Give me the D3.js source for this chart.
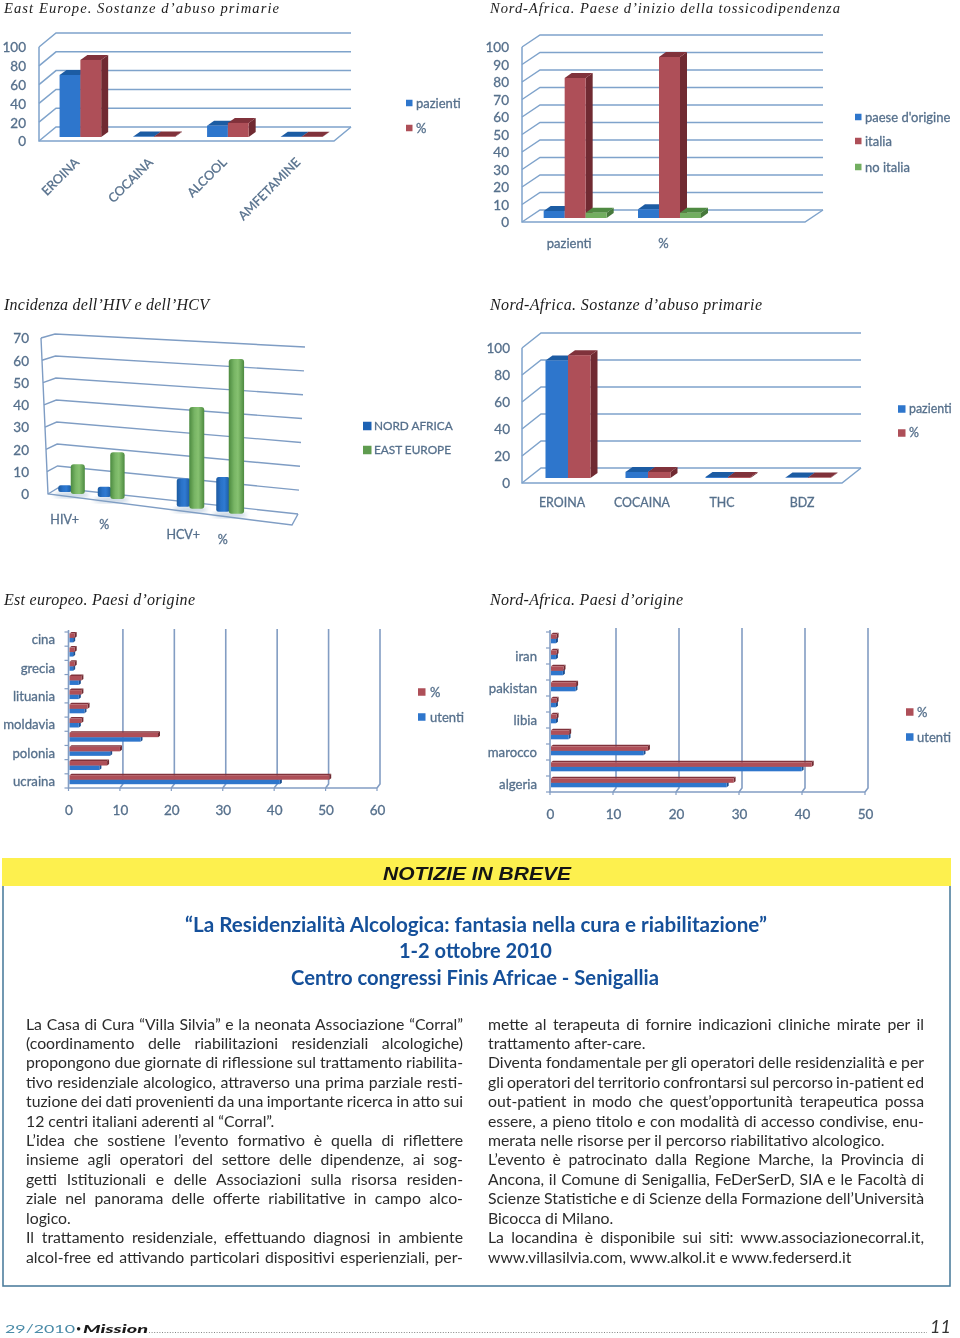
<!DOCTYPE html>
<html>
<head>
<meta charset="utf-8">
<script src="https://cdn.jsdelivr.net/npm/d3@7"></script>
<style>
  html, body { margin: 0; padding: 0; background: #fff; }
  svg { display: block; }
  text { font-family: Lato, "Open Sans", sans-serif; }
</style>
</head>
<body>
<div id="page"></div>
<script>
// East Europe, sostanze
const eeSubstances = ["EROINA", "COCAINA", "ALCOOL", "AMFETAMINE"];
const eePazienti = [66, 0.5, 12, 0.3];
const eePercent = [82, 0.6, 15, 0.3];

// Nord-Africa, paese d'inizio
const naStartCats = ["pazienti", "%", ""];
const naStartOrigine = [4, 5, 0];
const naStartItalia = [80, 92, 0];
const naStartNoItalia = [3, 3, 0];

// HIV / HCV
const hivCats = ["HIV+", "%", "", "HCV+", "%", ""];
const hivNordAfrica = [3, 4.5, null, 11.7, 14, null];
const hivEastEurope = [13.5, 20.5, null, 42, 62, null];

// Nord-Africa, sostanze
const naSubstances = ["EROINA", "COCAINA", "THC", "BDZ"];
const naPazienti = [87, 4.5, 0.7, 0.3];
const naPercent = [91, 4.5, 0.7, 0.3];

// Est europeo, paesi
const eeCountries = ["cina", "", "grecia", "", "lituania", "", "moldavia", "", "polonia", "", "ucraina"];
const eeCountryPercent = [1.4, 1.4, 1.4, 2.7, 2.7, 3.9, 2.7, 17.6, 10.2, 7.7, 50.9];
const eeCountryUtenti = [1.1, 1.1, 1.1, 2.2, 2.2, 3.3, 2.2, 14.2, 8.3, 6.2, 41.3];

// Nord-Africa, paesi
const naCountries = ["", "iran", "", "pakistan", "", "libia", "", "marocco", "", "algeria"];
const naCountryPercent = [1.2, 1.2, 2.3, 4.3, 1.2, 1.2, 3.2, 15.7, 41.7, 29.3];
const naCountryUtenti = [1.1, 1.1, 2.2, 4.2, 1.1, 1.1, 3.1, 15, 40.1, 28.2];

const ticks100by20 = [0, 20, 40, 60, 80, 100];
const ticks100by10 = [0, 10, 20, 30, 40, 50, 60, 70, 80, 90, 100];
const ticks70 = [0, 10, 20, 30, 40, 50, 60, 70];
const ticks60 = [0, 10, 20, 30, 40, 50, 60];
const ticks50 = [0, 10, 20, 30, 40, 50];

const bodyLeft = [
  ["La Casa di Cura “Villa Silvia” e la neonata Associazione “Corral”", 1],
  ["(coordinamento delle riabilitazioni residenziali alcologiche)", 1],
  ["propongono due giornate di riflessione sul trattamento riabilita-", 1],
  ["tivo residenziale alcologico, attraverso una prima parziale resti-", 1],
  ["tuzione dei dati provenienti da una importante ricerca in atto sui", 1],
  ["12 centri italiani aderenti al “Corral”.", 0],
  ["L’idea che sostiene l’evento formativo è quella di riflettere", 1],
  ["insieme agli operatori del settore delle dipendenze, ai sog-", 1],
  ["getti Istituzionali e delle Associazioni sulla risorsa residen-", 1],
  ["ziale nel panorama delle offerte riabilitative in campo alco-", 1],
  ["logico.", 0],
  ["Il trattamento residenziale, effettuando diagnosi in ambiente", 1],
  ["alcol-free ed attivando particolari dispositivi esperienziali, per-", 1]
];
const bodyRight = [
  ["mette al terapeuta di fornire indicazioni cliniche mirate per il", 1],
  ["trattamento after-care.", 0],
  ["Diventa fondamentale per gli operatori delle residenzialità e per", 1],
  ["gli operatori del territorio confrontarsi sul percorso in-patient ed", 1],
  ["out-patient in modo che quest’opportunità terapeutica possa", 1],
  ["essere, a pieno titolo e con modalità di accesso condivise, enu-", 1],
  ["merata nelle risorse per il percorso riabilitativo alcologico.", 0],
  ["L’evento è patrocinato dalla Regione Marche, la Provincia di", 1],
  ["Ancona, il Comune di Senigallia, FeDerSerD, SIA e le Facoltà di", 1],
  ["Scienze Statistiche e di Scienze della Formazione dell’Università", 1],
  ["Bicocca di Milano.", 0],
  ["La locandina è disponibile sui siti: www.associazionecorral.it,", 1],
  ["www.villasilvia.com, www.alkol.it e www.federserd.it", 0]
];

const BLUE = { front: "#2f76cc", top: "#1f5ba3", side: "#1d4f8f" };
const RED = { front: "#ae5058", top: "#80303a", side: "#6f2a30" };
const GREEN = { front: "#72ae60", top: "#4f8a42", side: "#47793b" };
const GRID = "#7fa3cb";
const LABEL = "#56708c";

const svg = d3.select("#page").append("svg")
    .attr("width", 960)
    .attr("height", 1338)
    .attr("viewBox", "0 0 960 1338")
    .style("background", "white");

const defs = svg.append("defs");
defs.append("filter").attr("id", "soft")
    .attr("x", "-5%").attr("y", "-5%").attr("width", "110%").attr("height", "110%")
  .append("feGaussianBlur").attr("stdDeviation", 0.5);
defs.append("filter").attr("id", "shadow")
  .append("feGaussianBlur").attr("stdDeviation", 2);

function cylinderGradient(id, dark, mid, light) {
    const g = defs.append("linearGradient").attr("id", id);
    g.append("stop").attr("offset", "0%").attr("stop-color", dark);
    g.append("stop").attr("offset", "35%").attr("stop-color", mid);
    g.append("stop").attr("offset", "60%").attr("stop-color", light);
    g.append("stop").attr("offset", "100%").attr("stop-color", dark);
}
cylinderGradient("cylBlue", "#1c5aa0", "#2a72c8", "#2f7ad2");
cylinderGradient("cylGreen", "#4c8a40", "#78b565", "#86c170");

const charts = svg.append("g").attr("filter", "url(#soft)");

function legend(items, x, labelX, size, fontSize) {
    const g = charts.append("g");
    items.forEach(item => {
        g.append("rect")
            .attr("x", x).attr("y", item.y - size / 2)
            .attr("width", size).attr("height", size)
            .attr("fill", item.color);
        g.append("text")
            .attr("x", labelX).attr("y", item.y)
            .attr("dy", "0.35em")
            .attr("font-size", fontSize)
            .attr("fill", LABEL)
            .attr("stroke", LABEL)
            .attr("stroke-width", 0.3)
            .text(item.label);
    });
}

function styleAxisText(axisG, fontSize) {
    axisG.select(".domain").remove();
    axisG.selectAll("line").remove();
    axisG.selectAll("text")
        .attr("font-size", fontSize)
        .attr("fill", LABEL)
        .attr("stroke", LABEL)
        .attr("stroke-width", 0.3)
        .style("font-family", "Lato, sans-serif");
}

// column chart with a fake 3d floor and wall
function columns3d(cfg) {
    const g = charts.append("g");
    const y = d3.scaleLinear().domain(cfg.domain).range([cfg.y0, cfg.yTop]);
    const x = d3.scaleBand().domain(d3.range(cfg.cats.length)).range([cfg.x0, cfg.x0 + cfg.width]);
    const inner = d3.scaleBand().domain(d3.range(cfg.series.length))
        .range([0, cfg.series.length * cfg.barWidth]);

    cfg.ticks.forEach(t => {
        g.append("path")
            .attr("d", d3.line()([
                [cfg.x0, y(t)],
                [cfg.x0 + cfg.dx, y(t) + cfg.dy],
                [cfg.x0 + cfg.width + cfg.dx, y(t) + cfg.dy]
            ]))
            .attr("fill", "none").attr("stroke", GRID).attr("stroke-width", 1.5);
    });
    g.append("path")
        .attr("d", d3.line()([
            [cfg.x0, cfg.yTop],
            [cfg.x0, cfg.y0],
            [cfg.x0 + cfg.width, cfg.y0],
            [cfg.x0 + cfg.width + cfg.dx, cfg.y0 + cfg.dy]
        ]))
        .attr("fill", "none").attr("stroke", GRID).attr("stroke-width", 1.5);

    const yAxis = g.append("g")
        .attr("transform", `translate(${cfg.x0},0.5)`)
        .call(d3.axisLeft(y).tickValues(cfg.ticks).tickSize(0).tickPadding(cfg.tickPad));
    styleAxisText(yAxis, 13.5);

    const lift = cfg.baseLift;
    const d = cfg.barDepth;
    cfg.cats.forEach((c, i) => {
        const start = x(i) + x.bandwidth() / 2 + cfg.barShift - inner.range()[1] / 2;
        cfg.series.forEach((s, j) => {
            const v = s.values[i];
            if (!v) return;
            const bx = start + inner(j);
            const bw = inner.bandwidth();
            const top = y(v) - lift;
            const bottom = y(0) - lift;
            g.append("polygon")
                .attr("points", [[bx + bw, top], [bx + bw + d[0], top + d[1]],
                    [bx + bw + d[0], bottom + d[1]], [bx + bw, bottom]].join(" "))
                .attr("fill", s.color.side);
            g.append("polygon")
                .attr("points", [[bx, top], [bx + d[0], top + d[1]],
                    [bx + bw + d[0], top + d[1]], [bx + bw, top]].join(" "))
                .attr("fill", s.color.top);
            g.append("rect")
                .attr("x", bx).attr("y", top)
                .attr("width", bw).attr("height", bottom - top)
                .attr("fill", s.color.front);
        });
    });

    const xAxis = g.append("g")
        .attr("transform", `translate(0,${cfg.catY})`)
        .call(d3.axisBottom(x).tickSize(0).tickPadding(0).tickFormat(i => cfg.cats[i]));
    styleAxisText(xAxis, cfg.catSize || 13);
    if (cfg.rotate) {
        xAxis.selectAll("text")
            .attr("text-anchor", "end")
            .attr("dy", "0.35em")
            .attr("transform", "translate(1,0) rotate(-45)");
    }
}

// bar chart lying on its side
function hbars3d(cfg) {
    const g = charts.append("g");
    const x = d3.scaleLinear().domain(cfg.domain).range([cfg.x0, cfg.x1]);
    const y = d3.scaleBand().domain(d3.range(cfg.cats.length)).range([cfg.yTop, cfg.y0]);
    const wd = 3, wh = -4;

    cfg.ticks.slice(1).forEach(t => {
        g.append("path")
            .attr("d", d3.line()([
                [x(t) + wd, cfg.yWall],
                [x(t) + wd, cfg.y0 + wh],
                [x(t), cfg.y0]
            ]))
            .attr("fill", "none").attr("stroke", "#839dc3").attr("stroke-width", 1.6);
    });
    g.append("path")
        .attr("d", d3.line()([[cfg.x0, cfg.yTop - 2], [cfg.x0, cfg.y0], [cfg.x1, cfg.y0]]))
        .attr("fill", "none").attr("stroke", "#839dc3").attr("stroke-width", 1.6);
    d3.range(cfg.cats.length + 1).forEach(i => {
        const ty = cfg.yTop + i * y.step();
        g.append("line")
            .attr("x1", cfg.x0 - 4).attr("x2", cfg.x0)
            .attr("y1", ty).attr("y2", ty)
            .attr("stroke", "#839dc3").attr("stroke-width", 1.2);
    });
    cfg.ticks.forEach(t => {
        g.append("line")
            .attr("x1", x(t)).attr("x2", x(t))
            .attr("y1", cfg.y0).attr("y2", cfg.y0 + 3)
            .attr("stroke", "#839dc3").attr("stroke-width", 1.2);
    });

    const h = cfg.barHeight;
    cfg.cats.forEach((c, i) => {
        const mid = y(i) + y.bandwidth() / 2 - 1.5;
        const a = x(0) + 1;
        const drawBar = (v, color, top) => {
            const b = x(v) - 1;
            g.append("polygon")
                .attr("points", [[a, top], [a + 2, top - 1.5], [b + 2, top - 1.5], [b, top]].join(" "))
                .attr("fill", color.top);
            g.append("polygon")
                .attr("points", [[b, top], [b + 2, top - 1.5], [b + 2, top + h - 1.5], [b, top + h]].join(" "))
                .attr("fill", color.side);
            g.append("rect")
                .attr("x", a).attr("y", top)
                .attr("width", b - a).attr("height", h)
                .attr("fill", color.front);
        };
        drawBar(cfg.utenti[i], BLUE, mid + 0.3);
        drawBar(cfg.percent[i], RED, mid - h + 0.3);
    });

    const catAxis = g.append("g")
        .attr("transform", `translate(${cfg.catX},1)`)
        .call(d3.axisLeft(y).tickSize(0).tickPadding(0).tickFormat(i => cfg.cats[i]));
    styleAxisText(catAxis, 13.2);

    const valAxis = g.append("g")
        .attr("transform", `translate(0,${cfg.valY})`)
        .call(d3.axisBottom(x).tickValues(cfg.ticks).tickSize(0).tickPadding(0));
    styleAxisText(valAxis, 13.5);
}

columns3d({
    cats: eeSubstances,
    series: [{ values: eePazienti, color: BLUE }, { values: eePercent, color: RED }],
    domain: [0, 100], ticks: ticks100by20,
    x0: 39, width: 295, y0: 141, yTop: 47, dx: 17, dy: -14,
    barWidth: 20.8, barShift: 4.5, baseLift: 4, barDepth: [7, -5],
    tickPad: 13, catY: 160, rotate: true, catSize: 12.6
});
legend([{ label: "pazienti", color: BLUE.front, y: 103 }, { label: "%", color: RED.front, y: 128 }], 406, 416, 6.5, 13);

columns3d({
    cats: naStartCats,
    series: [
        { values: naStartOrigine, color: BLUE },
        { values: naStartItalia, color: RED },
        { values: naStartNoItalia, color: GREEN }
    ],
    domain: [0, 100], ticks: ticks100by10,
    x0: 522, width: 283, y0: 222, yTop: 47, dx: 18, dy: -12,
    barWidth: 21, barShift: 6, baseLift: 4, barDepth: [7, -5],
    tickPad: 13, catY: 239
});
legend([
    { label: "paese d'origine", color: BLUE.front, y: 117 },
    { label: "italia", color: RED.front, y: 141 },
    { label: "no italia", color: GREEN.front, y: 167 }
], 855, 865, 6.5, 13);

// the HIV chart is drawn in perspective, so it gets its own scales
(function () {
    const g = charts.append("g");
    const dom = [0, 70];
    const frontY = d3.scaleLinear().domain(dom).range([494, 338]);
    const frontX = d3.scaleLinear().domain(dom).range([48, 41]);
    const backY = d3.scaleLinear().domain(dom).range([488, 334]);
    const backX = d3.scaleLinear().domain(dom).range([58, 55]);
    const rightY = d3.scaleLinear().domain(dom).range([514, 347]);
    const rightX = d3.scaleLinear().domain(dom).range([298, 305]);
    ticks70.forEach(t => {
        g.append("path")
            .attr("d", d3.line()([
                [frontX(t), frontY(t)],
                [backX(t), backY(t)],
                [rightX(t), rightY(t)]
            ]))
            .attr("fill", "none").attr("stroke", "#7f9dc4").attr("stroke-width", 1.4);
    });
    g.append("path")
        .attr("d", d3.line()([
            [frontX(70), frontY(70)], [frontX(0), frontY(0)],
            [292, 525], [rightX(0), rightY(0)]
        ]))
        .attr("fill", "none").attr("stroke", "#7f9dc4").attr("stroke-width", 1.4);

    const axis = g.append("g")
        .attr("transform", "translate(29,0.5)")
        .call(d3.axisLeft(frontY).tickValues(ticks70).tickSize(0).tickPadding(0));
    styleAxisText(axis, 13.5);

    const x = d3.scaleBand().domain(d3.range(hivCats.length)).range([51, 288]);
    const floorY = d3.scaleLinear().domain([71, 230]).range([494, 514]);
    const unit = d3.scaleLinear().domain([71, 230]).range([2.2, 2.5]);
    const barW = 12.5;

    hivCats.forEach((c, i) => {
        if (!c) return;
        const cx = x(i) + x.bandwidth() / 2;
        const base = floorY(cx);
        const blue = hivNordAfrica[i] * unit(cx);
        const green = hivEastEurope[i] * unit(cx);
        g.append("ellipse")
            .attr("cx", cx + 1).attr("cy", base + 1)
            .attr("rx", barW + 5).attr("ry", 3)
            .attr("fill", "#7f9fc0").attr("opacity", 0.45)
            .attr("filter", "url(#shadow)");
        g.append("rect")
            .attr("x", cx - barW).attr("y", base - 2 - blue)
            .attr("width", barW + 1).attr("height", blue)
            .attr("rx", 2.5)
            .attr("fill", "url(#cylBlue)");
        g.append("rect")
            .attr("x", cx).attr("y", base - green)
            .attr("width", barW + 1 + cx * 0.008).attr("height", green)
            .attr("rx", 3)
            .attr("fill", "url(#cylGreen)");
        g.append("text")
            .attr("x", cx - 6).attr("y", base + 26)
            .attr("dy", "0.35em")
            .attr("text-anchor", "middle")
            .attr("font-size", 12.5)
            .attr("fill", LABEL)
            .attr("stroke", LABEL)
            .attr("stroke-width", 0.3)
            .text(c);
    });
})();
legend([
    { label: "NORD AFRICA", color: "#1f62b4", y: 426 },
    { label: "EAST EUROPE", color: "#5f9c4f", y: 450 }
], 363, 374, 8.5, 11.8);

columns3d({
    cats: naSubstances,
    series: [{ values: naPazienti, color: BLUE }, { values: naPercent, color: RED }],
    domain: [0, 100], ticks: ticks100by20,
    x0: 522, width: 320, y0: 483, yTop: 348, dx: 19, dy: -15,
    barWidth: 22.5, barShift: 6, baseLift: 5, barDepth: [7, -5],
    tickPad: 12, catY: 498, catSize: 12.4
});
legend([{ label: "pazienti", color: BLUE.front, y: 409 }, { label: "%", color: RED.front, y: 433 }], 898, 909, 7.5, 12.4);

hbars3d({
    cats: eeCountries, percent: eeCountryPercent, utenti: eeCountryUtenti,
    domain: [0, 60], ticks: ticks60,
    x0: 68.5, x1: 377, yTop: 632, y0: 788, yWall: 629,
    barHeight: 4.5, catX: 55, valY: 805
});
legend([{ label: "%", color: RED.front, y: 692 }, { label: "utenti", color: BLUE.front, y: 717 }], 418, 430, 7.5, 13);

hbars3d({
    cats: naCountries, percent: naCountryPercent, utenti: naCountryUtenti,
    domain: [0, 50], ticks: ticks50,
    x0: 550, x1: 865, yTop: 632, y0: 792, yWall: 628,
    barHeight: 4.5, catX: 537, valY: 809
});
legend([{ label: "%", color: RED.front, y: 712 }, { label: "utenti", color: BLUE.front, y: 737 }], 906, 917, 7.5, 13);

// chart captions
const captions = [
    { text: "East Europe. Sostanze d’abuso primarie", x: 4, w: 275, y: 12.6, size: 14.6 },
    { text: "Nord-Africa. Paese d’inizio della tossicodipendenza", x: 490, w: 350, y: 12.6, size: 14.6 },
    { text: "Incidenza dell’HIV e dell’HCV", x: 4, w: 205, y: 310, size: 16 },
    { text: "Nord-Africa. Sostanze d’abuso primarie", x: 490, w: 272, y: 310, size: 16 },
    { text: "Est europeo. Paesi d’origine", x: 4, w: 191, y: 605, size: 16 },
    { text: "Nord-Africa. Paesi d’origine", x: 490, w: 193, y: 605, size: 16 }
];
svg.append("g").selectAll("text")
    .data(captions)
    .enter().append("text")
    .attr("x", d => d.x)
    .attr("y", d => d.y)
    .attr("textLength", d => d.w)
    .attr("lengthAdjust", "spacing")
    .attr("font-size", d => d.size)
    .attr("font-style", "italic")
    .attr("fill", "#1c1c1c")
    .style("font-family", "'Liberation Serif', serif")
    .text(d => d.text);

// news box
svg.append("rect")
    .attr("x", 3).attr("y", 870)
    .attr("width", 947).attr("height", 416)
    .attr("fill", "none")
    .attr("stroke", "#4f7f9e")
    .attr("stroke-width", 1.6);
svg.append("rect")
    .attr("x", 2).attr("y", 858)
    .attr("width", 949).attr("height", 28)
    .attr("fill", "#fdf04e");
svg.append("text")
    .attr("x", 383).attr("y", 880)
    .attr("textLength", 188)
    .attr("lengthAdjust", "spacingAndGlyphs")
    .attr("font-size", 18)
    .attr("font-weight", "bold")
    .attr("font-style", "italic")
    .attr("fill", "#141414")
    .style("font-family", "'Liberation Sans', sans-serif")
    .text("NOTIZIE IN BREVE");

const headings = [
    { text: "“La Residenzialità Alcologica: fantasia nella cura e riabilitazione”", x: 185, w: 582, y: 932 },
    { text: "1-2 ottobre 2010", x: 399, w: 153, y: 958 },
    { text: "Centro congressi Finis Africae - Senigallia", x: 291, w: 368, y: 985 }
];
svg.append("g").selectAll("text")
    .data(headings)
    .enter().append("text")
    .attr("x", d => d.x)
    .attr("y", d => d.y)
    .attr("textLength", d => d.w)
    .attr("lengthAdjust", "spacingAndGlyphs")
    .attr("font-size", 21.5)
    .attr("font-weight", "bold")
    .attr("fill", "#15509a")
    .style("font-family", "Lato, sans-serif")
    .text(d => d.text);

function bodyColumn(lines, x, width) {
    const g = svg.append("g");
    lines.forEach((line, i) => {
        const t = g.append("text")
            .attr("x", x)
            .attr("y", 1029.5 + i * 19.42)
            .attr("font-size", 15.8)
            .attr("fill", "#2b2b2b")
            .text(line[0]);
        if (line[1]) {
            const gaps = line[0].split(" ").length - 1;
            const natural = t.node().getComputedTextLength();
            t.attr("word-spacing", (width - natural) / gaps);
        }
    });
}
bodyColumn(bodyLeft, 26, 437);
bodyColumn(bodyRight, 488, 436);

// footer
svg.append("text")
    .attr("x", 5).attr("y", 1333)
    .attr("textLength", 70)
    .attr("lengthAdjust", "spacingAndGlyphs")
    .attr("font-size", 12)
    .attr("fill", "#4a8ba8")
    .text("29/2010");
svg.append("text")
    .attr("x", 76).attr("y", 1332)
    .attr("font-size", 9)
    .attr("fill", "#1a1a1a")
    .text("•");
svg.append("text")
    .attr("x", 83).attr("y", 1333)
    .attr("textLength", 65)
    .attr("lengthAdjust", "spacingAndGlyphs")
    .attr("font-size", 12)
    .attr("font-weight", "900")
    .attr("font-style", "italic")
    .attr("fill", "#1a1a1a")
    .text("Mission");
svg.append("line")
    .attr("x1", 149).attr("x2", 927)
    .attr("y1", 1332.5).attr("y2", 1332.5)
    .attr("stroke", "#666")
    .attr("stroke-width", 0.8)
    .attr("stroke-dasharray", "1 1.6");
svg.append("text")
    .attr("x", 930).attr("y", 1333)
    .attr("font-size", 18)
    .attr("font-style", "italic")
    .attr("fill", "#333")
    .text("11");
</script>
</body>
</html>
